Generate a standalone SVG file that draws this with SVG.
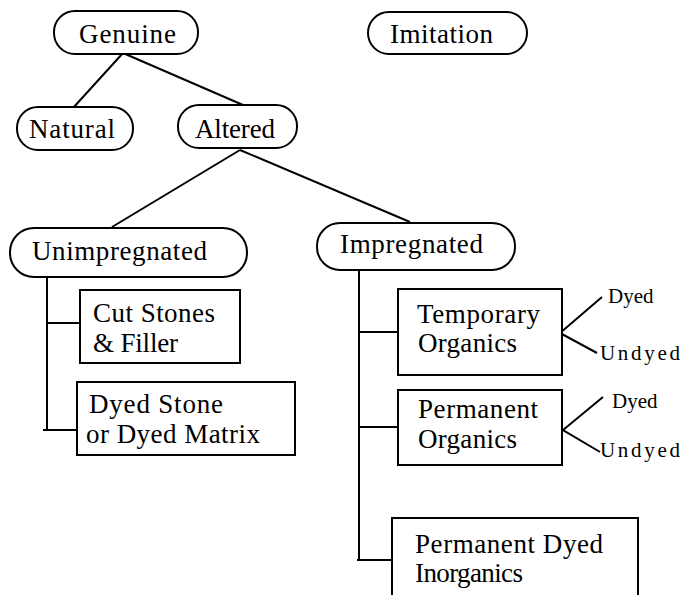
<svg xmlns="http://www.w3.org/2000/svg" width="687" height="595" viewBox="0 0 687 595">
<style>
.s{fill:#fff;stroke:#000;stroke-width:2}
.c{fill:none;stroke:#000;stroke-width:2}
text{font-family:'Liberation Serif','DejaVu Serif',serif;font-size:27px;fill:#000}
.m{font-size:21px}
</style>
<rect width="687" height="595" fill="#fff"/>
<g id="connectors">
<path class="c" d="M123,53 L73,108 M123,53 L243,105"/>
<path class="c" d="M240,150 L112,227 M240,150 L410,222"/>
<path class="c" d="M47,277 L47,431 M47,323 L80,323 M43,430 L77,430"/>
<path class="c" d="M359,270 L359,561 M359,332 L398,332 M359,427 L400,427 M357,560 L392,560"/>
<path class="c" d="M602,297 L560,333 L597,353"/>
<path class="c" d="M603,397 L563,430 L600,452"/>
</g>
<g id="genuine"><rect class="s" x="54" y="11" width="144" height="43" rx="21"/><text x="79" y="43" textLength="97" lengthAdjust="spacing">Genuine</text></g>
<g id="imitation"><rect class="s" x="368" y="12" width="159" height="42" rx="21"/><text x="390" y="43" textLength="103" lengthAdjust="spacing">Imitation</text></g>
<g id="natural"><rect class="s" x="17" y="107" width="116" height="43" rx="21"/><text x="29" y="138" textLength="86" lengthAdjust="spacing">Natural</text></g>
<g id="altered"><rect class="s" x="178" y="105" width="119" height="43" rx="21"/><text x="195" y="138" textLength="80" lengthAdjust="spacing">Altered</text></g>
<g id="unimpregnated"><rect class="s" x="10" y="228" width="237" height="49" rx="24"/><text x="32" y="260" textLength="175" lengthAdjust="spacing">Unimpregnated</text></g>
<g id="impregnated"><rect class="s" x="317" y="223" width="198" height="47" rx="23"/><text x="340" y="253" textLength="143" lengthAdjust="spacing">Impregnated</text></g>
<g id="cut-stones"><rect class="s" x="80" y="290" width="160" height="73"/><text x="93" y="322" textLength="122" lengthAdjust="spacing">Cut Stones</text><text x="93" y="352" textLength="85" lengthAdjust="spacing">&amp; Filler</text></g>
<g id="dyed-stone"><rect class="s" x="77" y="382" width="218" height="73"/><text x="89" y="413" textLength="134" lengthAdjust="spacing">Dyed Stone</text><text x="86" y="443" textLength="174" lengthAdjust="spacing">or Dyed Matrix</text></g>
<g id="temporary-organics"><rect class="s" x="398" y="289" width="164" height="86"/><text x="417" y="323" textLength="123" lengthAdjust="spacing">Temporary</text><text x="418" y="352" textLength="99" lengthAdjust="spacing">Organics</text></g>
<g id="permanent-organics"><rect class="s" x="398" y="390" width="164" height="75"/><text x="418" y="418" textLength="120" lengthAdjust="spacing">Permanent</text><text x="418" y="448" textLength="99" lengthAdjust="spacing">Organics</text></g>
<g id="permanent-dyed-inorganics"><rect class="s" x="392" y="518" width="246" height="82"/><text x="415" y="553" textLength="188" lengthAdjust="spacing">Permanent Dyed</text><text x="415" y="582" textLength="108" lengthAdjust="spacing">Inorganics</text></g>
<g id="dyed-1"><text class="m" x="608" y="303">Dyed</text></g>
<g id="undyed-1"><text class="m" x="600" y="360" textLength="80" lengthAdjust="spacing">Undyed</text></g>
<g id="dyed-2"><text class="m" x="612" y="408">Dyed</text></g>
<g id="undyed-2"><text class="m" x="600" y="457" textLength="80" lengthAdjust="spacing">Undyed</text></g>
</svg>
